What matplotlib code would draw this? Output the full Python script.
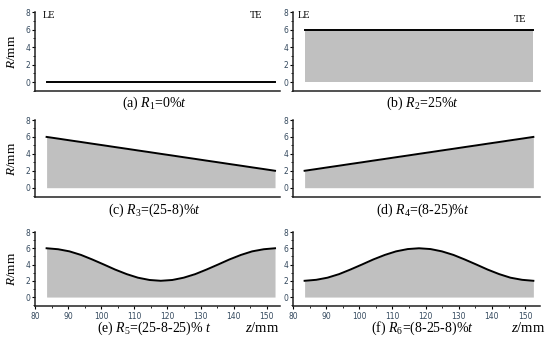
import matplotlib.pyplot as plt
from matplotlib.ticker import MultipleLocator

plt.rcParams['font.family'] = ['Liberation Serif', 'DejaVu Serif']
plt.rcParams['mathtext.fontset'] = 'custom'
plt.rcParams['mathtext.rm'] = 'Liberation Serif'
plt.rcParams['mathtext.it'] = 'Liberation Serif:italic'

# data (z in mm, R in mm)
z = [83.5, 87, 90.4, 93.9, 97.3, 100.8, 104.2, 107.7, 111.1, 114.6, 118,
     121.5, 124.9, 128.4, 131.8, 135.3, 138.7, 142.2, 145.6, 149.1, 152.5]
R1 = [0] * 21
R2 = [6] * 21
R3 = [6.0, 5.8, 5.6, 5.4, 5.2, 5.0, 4.8, 4.6, 4.4, 4.2, 4.0,
      3.8, 3.6, 3.4, 3.2, 3.0, 2.8, 2.6, 2.4, 2.2, 2.0]
R4 = [2.0, 2.2, 2.4, 2.6, 2.8, 3.0, 3.2, 3.4, 3.6, 3.8, 4.0,
      4.2, 4.4, 4.6, 4.8, 5.0, 5.2, 5.4, 5.6, 5.8, 6.0]
R5 = [6.0, 5.88, 5.62, 5.18, 4.62, 4.0, 3.38, 2.82, 2.38, 2.1, 2.0,
      2.1, 2.38, 2.82, 3.38, 4.0, 4.62, 5.18, 5.62, 5.88, 6.0]
R6 = [2.0, 2.12, 2.38, 2.82, 3.38, 4.0, 4.62, 5.18, 5.62, 5.9, 6.0,
      5.9, 5.62, 5.18, 4.62, 4.0, 3.38, 2.82, 2.38, 2.12, 2.0]

series = [R1, R2, R3, R4, R5, R6]
captions = [r'(a) $R_1$=0%$t$', r'(b) $R_2$=25%$t$', r'(c) $R_3$=(25-8)%$t$',
            r'(d) $R_4$=(8-25)%$t$', r'(e) $R_5$=(25-8-25)% $t$', r'(f) $R_6$=(8-25-8)%$t$']
xticks = [80, 90, 100, 110, 120, 130, 140, 150]

fig = plt.figure(figsize=(5.5, 3.42), dpi=100)

W, H = 550, 342
cols = [(35, 245, 154), (293, 247, 154.5)]          # left px, width px, xmax
rows = [(12, 91, -1.0, 103), (120, 197, -1.1, 210), (232, 306, -1.1, 328)]  # top, bottom, ymin, caption y
tick_col = '#34495e'

for i, R in enumerate(series):
    r, c = divmod(i, 2)
    lx, wx, xmax = cols[c]
    top, bot, ymin, capy = rows[r]
    ax = fig.add_axes([lx / W, 1 - bot / H, wx / W, (bot - top) / H])
    ax.fill_between(z, 0, R, color='#c0c0c0', lw=0)
    ax.plot(z, R, color='black', lw=1.4)
    ax.set_xlim(80, xmax)
    ax.set_ylim(ymin, 8)
    for s in ['top', 'right']:
        ax.spines[s].set_visible(False)
    for s in ['left', 'bottom']:
        ax.spines[s].set_linewidth(1.1)
        ax.spines[s].set_color('#222222')
    ax.set_yticks([0, 2, 4, 6, 8])
    ax.yaxis.set_minor_locator(MultipleLocator(1))
    ax.tick_params(axis='y', which='major', length=2.5, width=0.8, labelsize=5.5,
                   labelcolor=tick_col, pad=1)
    ax.tick_params(axis='y', which='minor', length=1.5, width=0.6)
    if r == 2:
        ax.set_xticks(xticks)
        ax.xaxis.set_minor_locator(MultipleLocator(5))
        ax.tick_params(axis='x', which='major', length=2.5, width=0.8, labelsize=5.5,
                       labelcolor=tick_col, pad=1.5)
        ax.tick_params(axis='x', which='minor', length=1.5, width=0.6)
        for lab in ax.get_xticklabels():
            lab.set_family('DejaVu Sans')
    else:
        ax.set_xticks([])
    for lab in ax.get_yticklabels():
        lab.set_family('DejaVu Sans')
    if c == 0:
        fig.text(12 / W, 1 - ((top + bot) / 2) / H, r'$R$/mm', rotation=90,
                 ha='center', va='center', fontsize=9.5)
    capx = lx + wx / 2 + (6 if c == 1 else -3)
    fig.text(capx / W, 1 - capy / H, captions[i], ha='center', va='center',
             fontsize=10)
    if r == 2:
        zx = lx + wx - 18 + (6 if c == 1 else 0)
        fig.text(zx / W, 1 - capy / H, r'$z$/mm', ha='center', va='center',
                 fontsize=10.5)

# LE / TE labels on the top row
fig.text(43 / W, 1 - 16 / H, 'LE', ha='left', va='center', fontsize=7.5)
fig.text(262 / W, 1 - 16 / H, 'TE', ha='right', va='center', fontsize=7.5)
fig.text(298 / W, 1 - 15 / H, 'LE', ha='left', va='center', fontsize=7.5)
fig.text(527 / W, 1 - 19 / H, 'TE', ha='right', va='center', fontsize=7.5)

fig.savefig('out.png', dpi=100)
